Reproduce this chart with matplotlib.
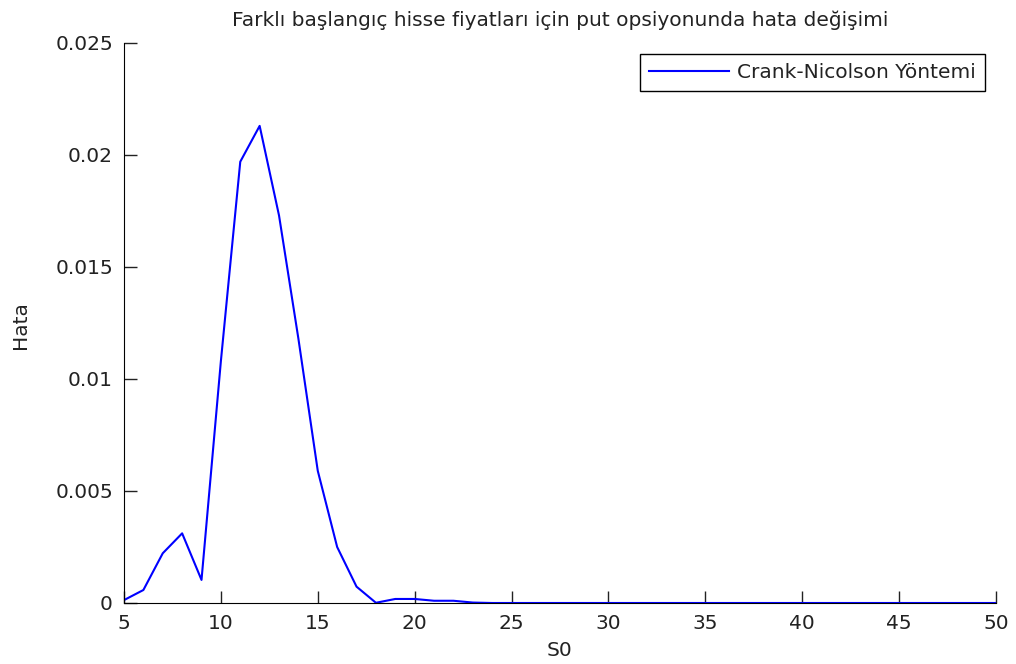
import matplotlib
matplotlib.use("Agg")
import matplotlib.pyplot as plt

plt.rcParams['font.family'] = ['DejaVu Sans']

s0 = list(range(5, 51))
hata = [0.00013, 0.00058, 0.00222, 0.00311, 0.00103, 0.0108, 0.0197, 0.0213,
        0.0173, 0.0118, 0.0059, 0.0025, 0.00073, 0.00001, 0.00018, 0.00018,
        0.0001, 0.0001, 0.00002] + [0.0] * 27

title = "Farklı başlangıç hisse fiyatları için put opsiyonunda hata değişimi"
xlabel = "S0"
ylabel = "Hata"
legend_label = "Crank-Nicolson Yöntemi"
xticks = [5, 10, 15, 20, 25, 30, 35, 40, 45, 50]
yticks = [0, 0.005, 0.01, 0.015, 0.02, 0.025]
ytick_labels = ["0", "0.005", "0.01", "0.015", "0.02", "0.025"]

FS = 14.5
W, H = 1016, 664
L, R, T, B = 124, 996, 43, 603

fig = plt.figure(figsize=(W / 100, H / 100), dpi=100)
ax = fig.add_axes([L / W, 1 - B / H, (R - L) / W, (B - T) / H])
ax.plot(s0, hata, color=(0, 0, 1), lw=1.5, label=legend_label)
ax.set_xlim(5, 50)
ax.set_ylim(0, 0.025)
ax.set_xticks(xticks)
ax.set_xticklabels([str(v) for v in xticks])
ax.set_yticks(yticks)
ax.set_yticklabels(ytick_labels)
ax.spines['top'].set_visible(False)
ax.spines['right'].set_visible(False)
ax.tick_params(direction='in', length=9, width=1, labelsize=FS, colors='#222222')
ax.tick_params(axis='x', pad=8)
ax.tick_params(axis='y', pad=8)

ax.text(0.5, (B - 26) / (B - T), title, transform=ax.transAxes, ha='center',
        va='baseline', fontsize=FS, color='#222222')
ax.set_xlabel(xlabel, fontsize=FS, color='#222222')
ax.xaxis.label.set_va('center')
ax.xaxis.set_label_coords(0.5, -(650 - B) / (B - T))
ax.set_ylabel(ylabel, fontsize=FS, color='#222222')
ax.yaxis.label.set_va('center')
ax.yaxis.set_label_coords(-(L - 20) / (R - L), (B - 325) / (B - T))

leg = ax.legend(loc='upper right', fontsize=FS, frameon=True, fancybox=False,
                edgecolor='black', framealpha=1, handlelength=4.0,
                handletextpad=0.4, borderpad=0.45, borderaxespad=0,
                bbox_to_anchor=((985 - L) / (R - L), (B - 54) / (B - T)))
leg.get_frame().set_linewidth(1)
for t in leg.get_texts():
    t.set_color('#222222')
fig.savefig("out.png", dpi=100)
